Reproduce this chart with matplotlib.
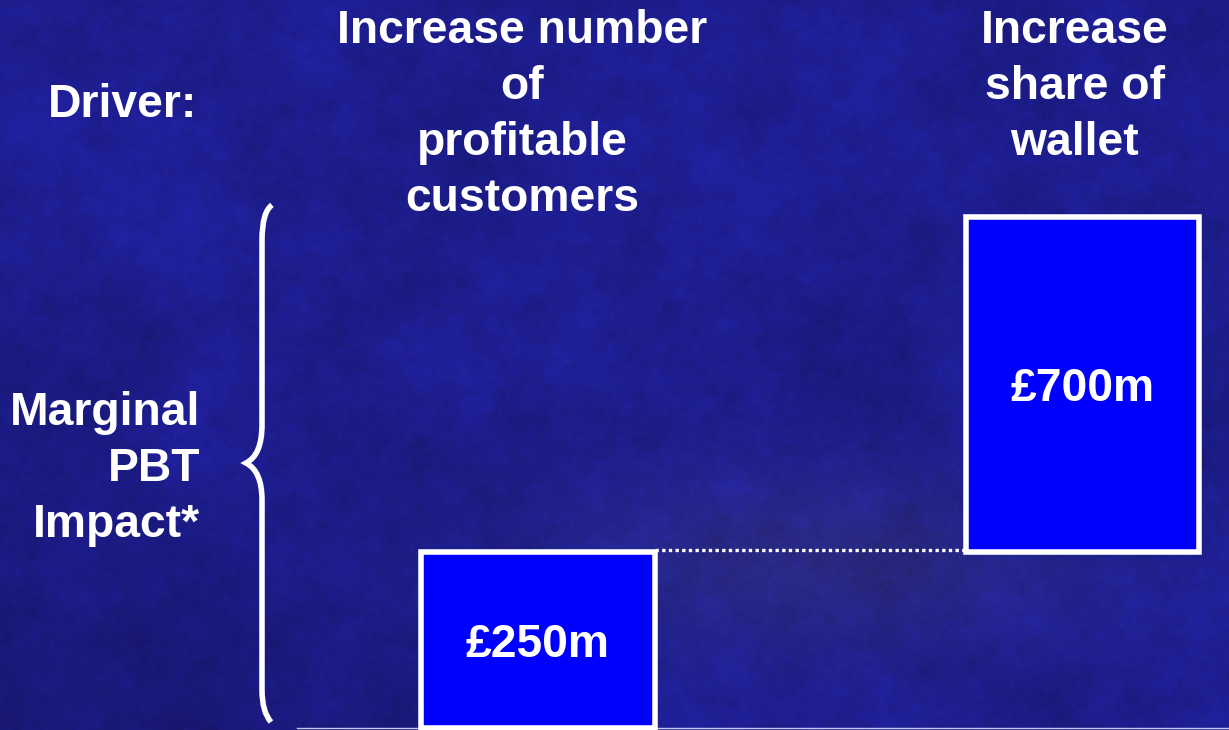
import numpy as np
import matplotlib
matplotlib.use("Agg")
import matplotlib.pyplot as plt
from matplotlib.path import Path
from matplotlib.patches import PathPatch
from matplotlib.transforms import offset_copy

# ---- data -------------------------------------------------------------
drivers = ["Increase number\nof\nprofitable\ncustomers", "Increase\nshare of\nwallet"]
impact = [250, 700]                 # marginal PBT impact, £m
bar_labels = ["£250m", "£700m"]
row_title = "Driver:"
axis_title = "Marginal\nPBT\nImpact*"

# ---- canvas -------------------------------------------------------------
W, H = 1229, 730
fig = plt.figure(figsize=(W / 100, H / 100), dpi=100)

# mottled navy backdrop
yy, xx = np.mgrid[0:H, 0:W].astype(float)
tex = np.zeros((H, W))
golden = np.pi * (3 - np.sqrt(5))
for k in range(72):
    ang = k * golden
    freq = 0.012 * 1.085 ** k
    tex += np.sin(freq * (xx * np.cos(ang) + yy * np.sin(ang)) + k * 1.7) / (1 + 0.03 * k)
tex /= np.abs(tex).max()

base = np.array([0.115, 0.115, 0.56])
shade = 1 - 0.18 * np.exp(-(((xx - 90) / 320) ** 2 + ((yy - 720) / 220) ** 2))
glow = 0.05 * np.exp(-(((xx - 820) / 260) ** 2 + ((yy - 560) / 90) ** 2))
img = base[None, None, :] * (shade * (1 + 0.2 * tex))[..., None]
img[..., 0] += glow
img[..., 1] += glow
img[..., 2] -= glow * 0.5
img = np.clip(img, 0, 1)

bg = fig.add_axes([0, 0, 1, 1])
bg.imshow(img, extent=(0, W, H, 0), aspect="auto", interpolation="bilinear")
bg.set_xlim(0, W)
bg.set_ylim(H, 0)
bg.axis("off")

font = dict(family=["Liberation Sans", "DejaVu Sans"], fontweight="bold",
            fontsize=33.3, color="white")

def draw_lines(text, x, baselines, ha):
    for line, yb in zip(text.split("\n"), baselines):
        bg.text(x, yb, line, ha=ha, va="baseline", **font)

draw_lines(row_title, 197, [117], "right")
draw_lines(axis_title, 200, [425, 481, 537], "right")
draw_lines(drivers[0], 522, [43, 99, 155, 211], "center")
draw_lines(drivers[1], 1075, [43, 99, 155], "center")

# curly brace beside the impact title
brace = Path(
    [(272, 205), (262, 212), (262, 240),
     (262, 425),
     (262, 455), (246, 463),
     (262, 471), (262, 500),
     (262, 690),
     (262, 712), (271, 722)],
    [Path.MOVETO, Path.CURVE3, Path.CURVE3,
     Path.LINETO,
     Path.CURVE3, Path.CURVE3,
     Path.CURVE3, Path.CURVE3,
     Path.LINETO,
     Path.CURVE3, Path.CURVE3])
bg.add_patch(PathPatch(brace, facecolor="none", edgecolor="white", lw=4, capstyle="butt"))

# ---- waterfall ----------------------------------------------------------
ax = fig.add_axes([297 / W, 2 / H, (W - 297) / W, (728 - 217) / H])
ax.patch.set_alpha(0)

power = 0.8
fwd = lambda v: np.sign(v) * np.abs(v) ** power
inv = lambda v: np.sign(v) * np.abs(v) ** (1 / power)
ax.set_yscale("function", functions=(fwd, inv))

bottoms = np.concatenate([[0], np.cumsum(impact)[:-1]])
total = float(np.sum(impact))
ax.set_ylim(0, total)
unit = 544.5
ax.set_xlim(-(538 - 297) / unit, (W - 538) / unit)

xpos = np.arange(len(impact))
width = 0.428
bars = ax.bar(xpos, impact, bottom=bottoms, width=width, color="#0000ff",
              edgecolor="white", linewidth=4, zorder=3, clip_on=False)

# dotted connector between consecutive steps, level with the step's outer edge
conn_tf = offset_copy(ax.transData, fig=fig, x=0, y=2.5, units="dots")
for i in range(len(impact) - 1):
    level = bottoms[i] + impact[i]
    ax.plot([xpos[i] + width / 2, xpos[i + 1] - width / 2], [level, level],
            color="white", lw=2.4, linestyle=(0, (1, 1.0)), transform=conn_tf,
            dash_capstyle="butt", zorder=2, clip_on=False)

# value labels, optically centred in each bar
label_tf = offset_copy(ax.transData, fig=fig, x=0, y=-16.5, units="dots")
for x, b, v, lab in zip(xpos, bottoms, impact, bar_labels):
    mid = inv((fwd(b) + fwd(b + v)) / 2)
    ax.text(x, mid, lab, ha="center", va="baseline", transform=label_tf,
            zorder=4, **font)

for side in ("top", "left", "right"):
    ax.spines[side].set_visible(False)
ax.spines["bottom"].set_color("#c8c8ee")
ax.spines["bottom"].set_linewidth(1)
ax.tick_params(which="both", length=0, labelbottom=False, labelleft=False)
ax.set_xticks([])
ax.set_yticks([])
ax.set_yticks([], minor=True)

fig.savefig("out.png", dpi=100)
